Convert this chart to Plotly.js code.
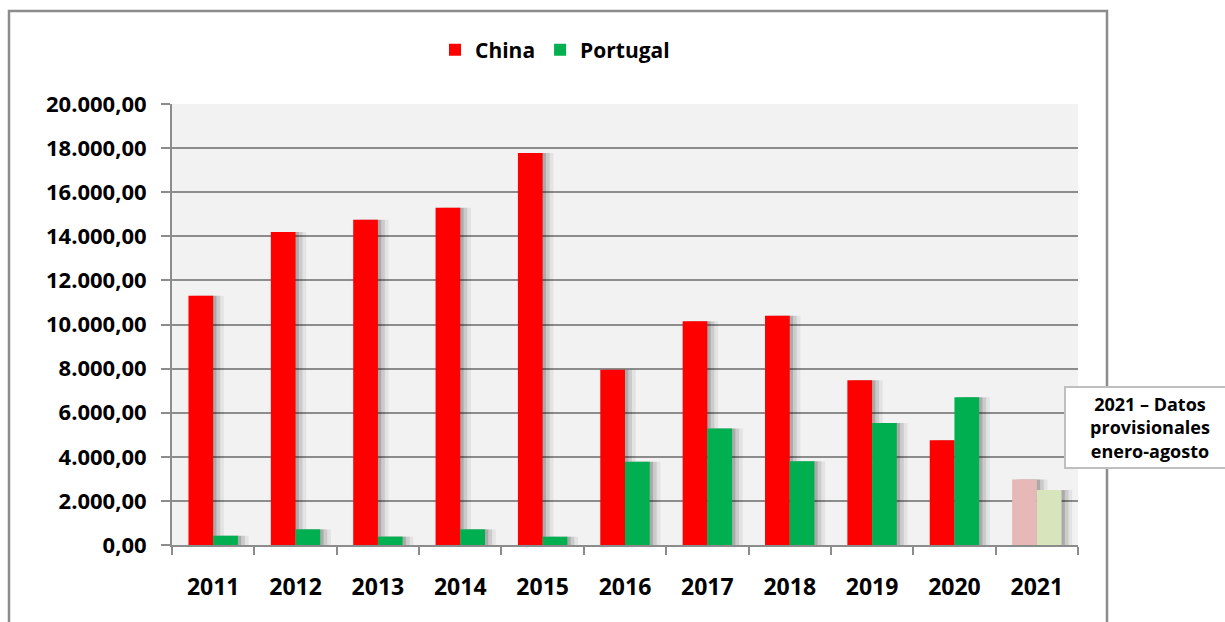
<!DOCTYPE html>
<html>
<head>
<meta charset="utf-8">
<script src="https://cdn.plot.ly/plotly-3.0.1.min.js"></script>
<style>
  html, body { margin: 0; padding: 0; background: #fff; }
  #chart { width: 1225px; height: 622px; }
</style>
</head>
<body>
<div id="chart"></div>
<script>
const years = ["2011", "2012", "2013", "2014", "2015", "2016", "2017", "2018", "2019", "2020", "2021"];
const china = [11300, 14200, 14750, 15300, 17780, 7950, 10150, 10400, 7470, 4750, 2970];
const portugal = [420, 710, 380, 710, 375, 3780, 5280, 3800, 5530, 6700, 2490];

// 2021 is provisional, drawn in pale colours
const chinaColors = years.map(y => (y === "2021" ? "#e6b8b7" : "#ff0000"));
const portugalColors = years.map(y => (y === "2021" ? "#d8e4bc" : "#00b050"));

const barW = 0.3;
const font = "Open Sans, Arial, sans-serif";

// soft drop shadow, three layers
function shadow(vals, off, alpha) {
  return {
    type: "bar", x: years, y: vals, width: barW, offset: off,
    marker: { color: "rgba(0,0,0," + alpha + ")", line: { width: 0 } },
    showlegend: false, hoverinfo: "skip"
  };
}

const data = [
  shadow(china, -barW + 0.13, 0.06),
  shadow(china, -barW + 0.085, 0.1),
  shadow(china, -barW + 0.04, 0.16),
  shadow(portugal, 0.13, 0.06),
  shadow(portugal, 0.085, 0.1),
  shadow(portugal, 0.04, 0.16),
  {
    type: "bar", name: "China", x: years, y: china,
    width: barW, offset: -barW,
    marker: { color: chinaColors, line: { width: 0 } }
  },
  {
    type: "bar", name: "Portugal", x: years, y: portugal,
    width: barW, offset: 0,
    marker: { color: portugalColors, line: { width: 0 } }
  }
];

// plot area: x 172..1078, y 104..545
const L = 172, R = 1078, T = 104, B = 545;
const px = v => (v - L) / (R - L);
const py = v => (B - v) / (B - T);

const layout = {
  width: 1225, height: 622,
  margin: { l: L, r: 1225 - R, t: T, b: 622 - B, pad: 0 },
  paper_bgcolor: "#ffffff",
  plot_bgcolor: "#f2f2f2",
  barmode: "overlay",
  separators: ",.",
  font: { family: font, color: "#000" },
  showlegend: true,
  legend: {
    orientation: "h",
    x: px(555), xanchor: "center",
    y: py(50), yanchor: "middle",
    font: { family: font, size: 21, weight: "bold", color: "#000" },
    itemwidth: 30,
    traceorder: "normal"
  },
  xaxis: {
    type: "category",
    range: [-0.5, 10.5],
    showline: true, linecolor: "#8c8c8c", linewidth: 2,
    ticks: "outside", tickson: "boundaries", ticklen: 8,
    tickcolor: "#8c8c8c", tickwidth: 2,
    ticklabelstandoff: 20,
    showgrid: false,
    tickfont: { family: font, size: 23, weight: "bold", color: "#000" },
    fixedrange: true
  },
  yaxis: {
    range: [0, 20000],
    dtick: 2000,
    tickformat: ",.2f",
    showline: true, linecolor: "#8c8c8c", linewidth: 2,
    ticks: "outside", ticklen: 9, tickcolor: "#8c8c8c", tickwidth: 2,
    ticklabelstandoff: 10,
    showgrid: true, gridcolor: "#8c8c8c", gridwidth: 2,
    zeroline: false,
    tickfont: { family: font, size: 22, weight: "bold", color: "#000" },
    fixedrange: true
  },
  shapes: [
    {
      type: "rect", xref: "paper", yref: "paper", layer: "below",
      x0: px(9), x1: px(1107), y0: py(640), y1: py(11),
      line: { color: "#8c8c8c", width: 2.5 }, fillcolor: "rgba(0,0,0,0)"
    }
  ],
  annotations: [
    {
      xref: "paper", yref: "paper",
      x: px(1150), y: py(428), xanchor: "center", yanchor: "middle",
      text: "<b>2021 – Datos<br>provisionales<br>enero-agosto</b>",
      showarrow: false,
      font: { family: font, size: 18, color: "#000" },
      align: "center",
      bgcolor: "#ffffff", bordercolor: "#bfbfbf", borderwidth: 2, borderpad: 4,
      width: 160
    }
  ]
};

Plotly.newPlot("chart", data, layout, { displayModeBar: false, staticPlot: true });
</script>
</body>
</html>
